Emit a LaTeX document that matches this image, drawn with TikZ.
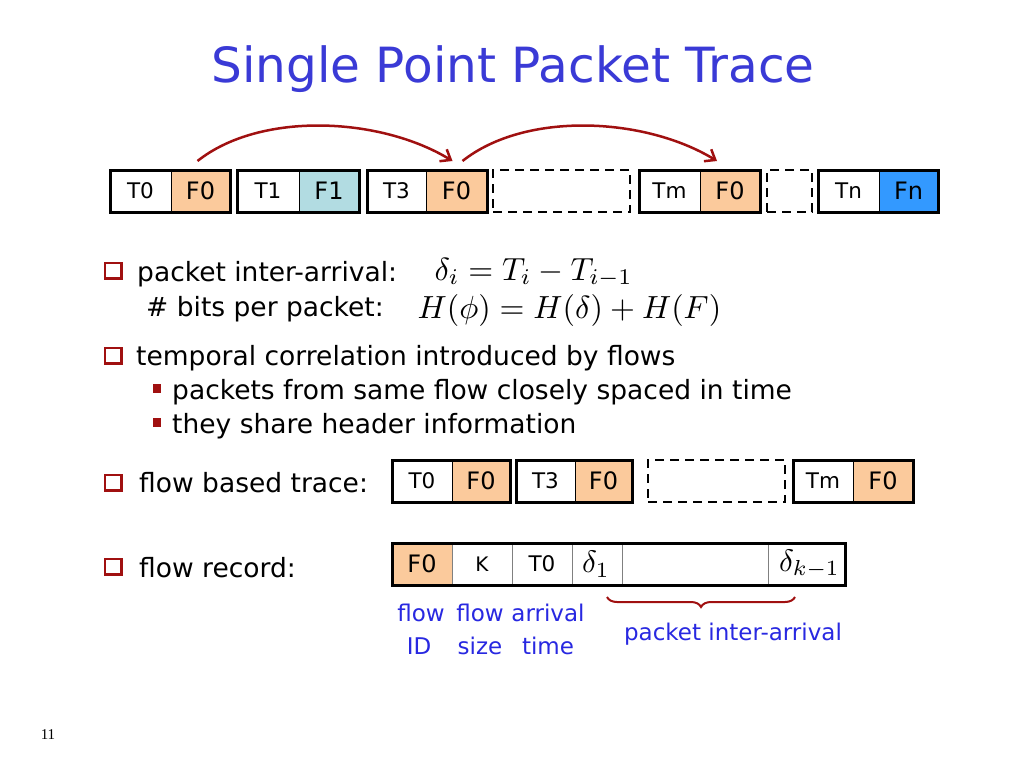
\documentclass[tikz,border=0pt]{standalone}
\usepackage[no-math]{fontspec}
\setmainfont{DejaVu Sans}
\newfontfamily\numfont{Liberation Serif}
\usetikzlibrary{arrows.meta,decorations.pathreplacing}
\definecolor{peach}{RGB}{251,202,156}
\definecolor{lblue}{RGB}{178,220,226}
\definecolor{fnblue}{RGB}{51,153,255}
\definecolor{dred}{RGB}{160,16,16}
\definecolor{titleblue}{RGB}{58,58,214}
\definecolor{lblblue}{RGB}{40,40,225}
\tikzset{
  cell/.style={draw=black, line width=0.8pt, inner sep=0pt, outer sep=0pt, minimum height=42pt, anchor=center},
  tlab/.style={font=\fontsize{21.5}{24}\selectfont},
  flab/.style={font=\fontsize{24}{27}\selectfont},
  outerbox/.style={draw=black, line width=3pt},
  dbox/.style={draw=black, line width=2.6pt, dash pattern=on 9pt off 6pt, inner sep=0pt, outer sep=0pt, minimum height=42pt},
  rcell/.style={draw=gray, line width=0.8pt, inner sep=0pt, outer sep=0pt, minimum height=42pt},
  body/.style={anchor=base west, inner sep=0pt, font=\fontsize{26.5}{30}\selectfont},
  mathlab/.style={anchor=base west, inner sep=0pt, font=\fontsize{10}{12}\selectfont, scale=3.2},
  cellmath/.style={inner sep=0pt, font=\fontsize{10}{12}\selectfont, scale=3.1},
  lbl/.style={anchor=base, inner sep=0pt, text=lblblue, font=\fontsize{23}{26}\selectfont},
  arc/.style={draw=dred, line width=2.5pt, -{Straight Barb[length=9pt,width=14pt]}},
}
\newcommand\qbullet[2]{%
  \fill[dred] (#1,#2) rectangle ++(19,18);
  \fill[white] (#1+2,#2+2) rectangle ++(13.5,12.5);
}
\begin{document}
\begin{tikzpicture}[x=1pt,y=-1pt]
\useasboundingbox (0,0) rectangle (1024,768);
\fill[white] (0,0) rectangle (1024,768);

% title
\node[anchor=base, inner sep=0pt, text=titleblue, font=\fontsize{48.5}{52}\selectfont] (title) at (513,82) {Single Point Packet Trace};

% top row
\node[cell, tlab, minimum width=61pt] (a0) at (140.5,191) {T0};
\node[cell, flab, fill=peach, minimum width=59pt] (a1) at (200.5,191) {F0};
\draw[outerbox] (a0.north west) rectangle (a1.south east);
\node[cell, tlab, minimum width=62pt] (b0) at (268,191) {T1};
\node[cell, flab, fill=lblue, minimum width=60pt] (b1) at (329,191) {F1};
\draw[outerbox] (b0.north west) rectangle (b1.south east);
\node[cell, tlab, minimum width=59pt] (c0) at (396.5,191) {T3};
\node[cell, flab, fill=peach, minimum width=61pt] (c1) at (456.5,191) {F0};
\draw[outerbox] (c0.north west) rectangle (c1.south east);
\node[dbox, minimum width=137pt] (d1) at (561.5,191) {};
\node[cell, tlab, minimum width=61pt] (m0) at (669.5,191) {Tm};
\node[cell, flab, fill=peach, minimum width=60pt] (m1) at (730,191) {F0};
\draw[outerbox] (m0.north west) rectangle (m1.south east);
\node[dbox, minimum width=45pt] (d2) at (789.5,191) {};
\node[cell, tlab, minimum width=61pt] (n0) at (848.5,191) {Tn};
\node[cell, flab, fill=fnblue, minimum width=59pt] (n1) at (908.5,191) {Fn};
\draw[outerbox] (n0.north west) rectangle (n1.south east);

% arcs
\coordinate (s1) at ([xshift=-3pt,yshift=9pt]a1.north);
\coordinate (e1) at ([xshift=-4pt,yshift=9pt]c1.north);
\coordinate (s2) at ([xshift=6pt,yshift=9pt]c1.north);
\coordinate (e2) at ([xshift=-13pt,yshift=9pt]m1.north);
\draw[arc] (s1) .. controls +(63,-50) and +(-72,-44) .. (e1);
\draw[arc] (s2) .. controls +(63,-50) and +(-72,-44) .. (e2);

% bullets
\qbullet{104}{262}
\qbullet{104}{347}
\qbullet{104}{474}
\qbullet{104}{558}
\fill[dred] (153,384) rectangle (161,393);
\fill[dred] (153,418) rectangle (161,427);

% body text
\node[body] (t1) at (137,281) {packet inter-arrival:};
\node[body] (t2) at (146,316) {\# bits per packet:};
\node[mathlab] (m1eq) at (434,280) {$\delta_i = T_i - T_{i-1}$};
\node[mathlab] (m2eq) at (417,318) {$H(\phi) = H(\delta) + H(F)$};
\node[body] (t3) at (136,365) {temporal correlation introduced by flows};
\node[body] (t4) at (172,399) {packets from same flow closely spaced in time};
\node[body] (t5) at (172,433) {they share header information};
\node[body] (t6) at (139,492) {flow based trace:};
\node[body] (t7) at (139,577) {flow record:};

% flow based trace row
\node[cell, tlab, minimum width=60pt] (p0) at (422,481) {T0};
\node[cell, flab, fill=peach, minimum width=58pt] (p1) at (481,481) {F0};
\draw[outerbox] (p0.north west) rectangle (p1.south east);
\node[cell, tlab, minimum width=59pt] (q0) at (545.5,481) {T3};
\node[cell, flab, fill=peach, minimum width=57pt] (q1) at (603.5,481) {F0};
\draw[outerbox] (q0.north west) rectangle (q1.south east);
\node[dbox, minimum width=137pt] (d3) at (716.5,481) {};
\node[cell, tlab, minimum width=60pt] (r0) at (823,481) {Tm};
\node[cell, flab, fill=peach, minimum width=60pt] (r1) at (883,481) {F0};
\draw[outerbox] (r0.north west) rectangle (r1.south east);

% flow record
\node[rcell, flab, fill=peach, minimum width=60pt] (f0) at (422,564) {F0};
\node[rcell, font=\fontsize{20}{23}\selectfont, minimum width=60pt] (f1) at (482,564) {K};
\node[rcell, tlab, minimum width=60pt] (f2) at (542,564) {T0};
\node[rcell, minimum width=50pt] (f3) at (597,564) {};
\node[rcell, minimum width=146pt] (f4) at (695,564) {};
\node[rcell, minimum width=77pt] (f5) at (806.5,564) {};
\draw[outerbox] (f0.north west) rectangle (f5.south east);
\node[cellmath] (f3m) at ([xshift=-1pt]f3) {$\delta_1$};
\node[cellmath] (f5m) at ([xshift=3pt]f5) {$\delta_{k-1}$};

% labels
\node[lbl] (l1) at (421,621) {flow};
\node[lbl] (l2) at (419,654) {ID};
\node[lbl] (l3) at (480,621) {flow};
\node[lbl] (l4) at (480,654) {size};
\node[lbl] (l5) at (548,621) {arrival};
\node[lbl] (l6) at (548,654) {time};
\coordinate (br1) at (607,597);
\coordinate (br2) at (795,597);
\draw[dred, line width=2pt, decorate, decoration={brace, mirror, amplitude=10pt}] (br1) -- (br2);
\node[lbl] (l7) at (733,640) {packet inter-arrival};

% page number
\node[anchor=base, inner sep=0pt, font=\numfont\fontsize{15}{18}\selectfont] (pg) at (48,739) {11};
\end{tikzpicture}
\end{document}
